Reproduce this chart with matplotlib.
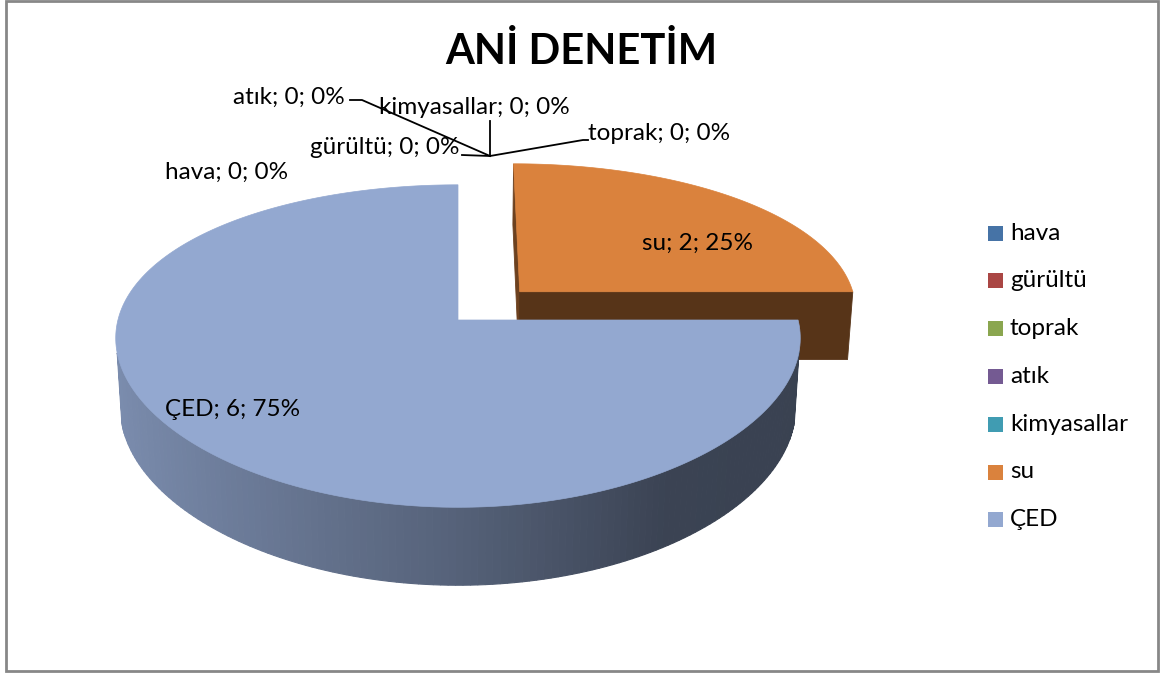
import numpy as np
import matplotlib
matplotlib.use('Agg')
import matplotlib.pyplot as plt
from matplotlib.patches import Polygon, Rectangle

# data
categories = ['hava', 'gürültü', 'toprak', 'atık', 'kimyasallar', 'su', 'ÇED']
values = [0, 0, 0, 0, 0, 2, 6]
colors = ['#4673A6', '#AA4644', '#8AA64F', '#745A92', '#409CB2', '#DA823D', '#93A8D0']
explode = [0, 0, 0, 0, 0, 0.262, 0]
title = 'ANİ DENETİM'

plt.rcParams['font.family'] = ['Lato', 'DejaVu Sans']
FS = 17.5

W, H = 1161, 673
fig = plt.figure(figsize=(W / 100, H / 100), dpi=100)
ax = fig.add_axes([0, 0, 1, 1])
ax.set_xlim(0, W)
ax.set_ylim(H, 0)
ax.axis('off')

# simple perspective camera for the 3d pie (pixel space)
CX, CY = 458, 320
F, D = 1867.0, 5.49
KX = 0.7  # weaker perspective horizontally
el = np.radians(27.5)
s, c = np.sin(el), np.cos(el)
T = 0.234
cam = np.array([0.0, -D * c])


def proj(X, Y, Z):
    d = D + Y * c - Z * s
    dx = D + KX * (Y * c - Z * s)
    return CX + F * X / dx, CY - F * (Y * s + Z * c) / d


def shade(col, f):
    r, g, b = matplotlib.colors.to_rgb(col)
    return (r * f, g * f, b * f)


total = sum(values)
cum = np.concatenate([[0], np.cumsum(values)])
slices = []
for i, v in enumerate(values):
    if v <= 0:
        continue
    a0 = np.radians(360 * cum[i] / total)
    a1 = np.radians(360 * cum[i + 1] / total)
    mid = (a0 + a1) / 2
    ox, oy = explode[i] * np.sin(mid), explode[i] * np.cos(mid)
    slices.append((oy, i, a0, a1, ox))

# back slices first
slices.sort(key=lambda t: -t[0])

for oy, i, a0, a1, ox in slices:
    col = colors[i]
    # radial faces
    for a, n in [(a0, np.array([-np.cos(a0), np.sin(a0)])),
                 (a1, np.array([np.cos(a1), -np.sin(a1)]))]:
        p = np.array([ox + 0.5 * np.sin(a), oy + 0.5 * np.cos(a)])
        if np.dot(n, cam - p) > 1e-6:
            pts = [proj(ox, oy, 0), proj(ox + np.sin(a), oy + np.cos(a), 0),
                   proj(ox + np.sin(a), oy + np.cos(a), -T), proj(ox, oy, -T)]
            fc = shade(col, 0.4 if abs(n[0]) < 0.5 else 0.5)
            ax.add_patch(Polygon(pts, closed=True, fc=fc, ec=fc, lw=0.6))
    # curved outer side
    th = np.linspace(a0, a1, 240)
    for k in range(len(th) - 1):
        tm = (th[k] + th[k + 1]) / 2
        nrm = np.array([np.sin(tm), np.cos(tm)])
        p = np.array([ox + np.sin(tm), oy + np.cos(tm)])
        if np.dot(nrm, cam - p) <= 0:
            continue
        f = np.interp(np.sin(tm), [-1, 0, 0.55, 1], [0.84, 0.58, 0.40, 0.39])
        fc = shade(col, f)
        q = [proj(ox + np.sin(th[k]), oy + np.cos(th[k]), 0),
             proj(ox + np.sin(th[k + 1]), oy + np.cos(th[k + 1]), 0),
             proj(ox + np.sin(th[k + 1]), oy + np.cos(th[k + 1]), -T),
             proj(ox + np.sin(th[k]), oy + np.cos(th[k]), -T)]
        ax.add_patch(Polygon(q, closed=True, fc=fc, ec=fc, lw=0.8))
    # top face
    top = [proj(ox, oy, 0)] + [proj(ox + np.sin(t), oy + np.cos(t), 0) for t in th]
    ax.add_patch(Polygon(top, closed=True, fc=col, ec=col, lw=0.5))


def lab(i):
    pct = 100 * values[i] / total
    return f'{categories[i]}; {values[i]}; {pct:.0f}%'


# data labels
ax.text(697, 243, lab(5), fontsize=FS, ha='center', va='center')
ax.text(165, 410, lab(6), fontsize=FS, ha='left', va='center')
ax.text(165, 172, lab(0), fontsize=FS, ha='left', va='center')
ax.text(460, 148, lab(1), fontsize=FS, ha='right', va='center')
ax.text(588, 133, lab(2), fontsize=FS, ha='left', va='center')
ax.text(345, 97, lab(3), fontsize=FS, ha='right', va='center')
ax.text(474, 107, lab(4), fontsize=FS, ha='center', va='center')

# leader lines for zero slices
anchor = (490, 156)
lk = dict(color='black', lw=1.3)
ax.plot([462, anchor[0]], [155, anchor[1]], **lk)
ax.plot([350, 362, anchor[0]], [100, 100, anchor[1]], **lk)
ax.plot([anchor[0], anchor[0]], [121, anchor[1]], **lk)
ax.plot([anchor[0], 583, 588], [anchor[1], 140, 140], **lk)

# title
ax.text(581, 52, title, fontsize=30, fontweight='bold', ha='center', va='center')

# legend
for k, name in enumerate(categories):
    y = 233 + k * 47.8
    ax.add_patch(Rectangle((988, y - 7.5), 15, 15, fc=colors[k], ec='none'))
    ax.text(1010, y, name, fontsize=FS, ha='left', va='center')

# chart border
ax.add_patch(Rectangle((5.5, 1), 1152, 670, fill=False, ec='#878787', lw=2))

fig.savefig('out.png', dpi=100)
